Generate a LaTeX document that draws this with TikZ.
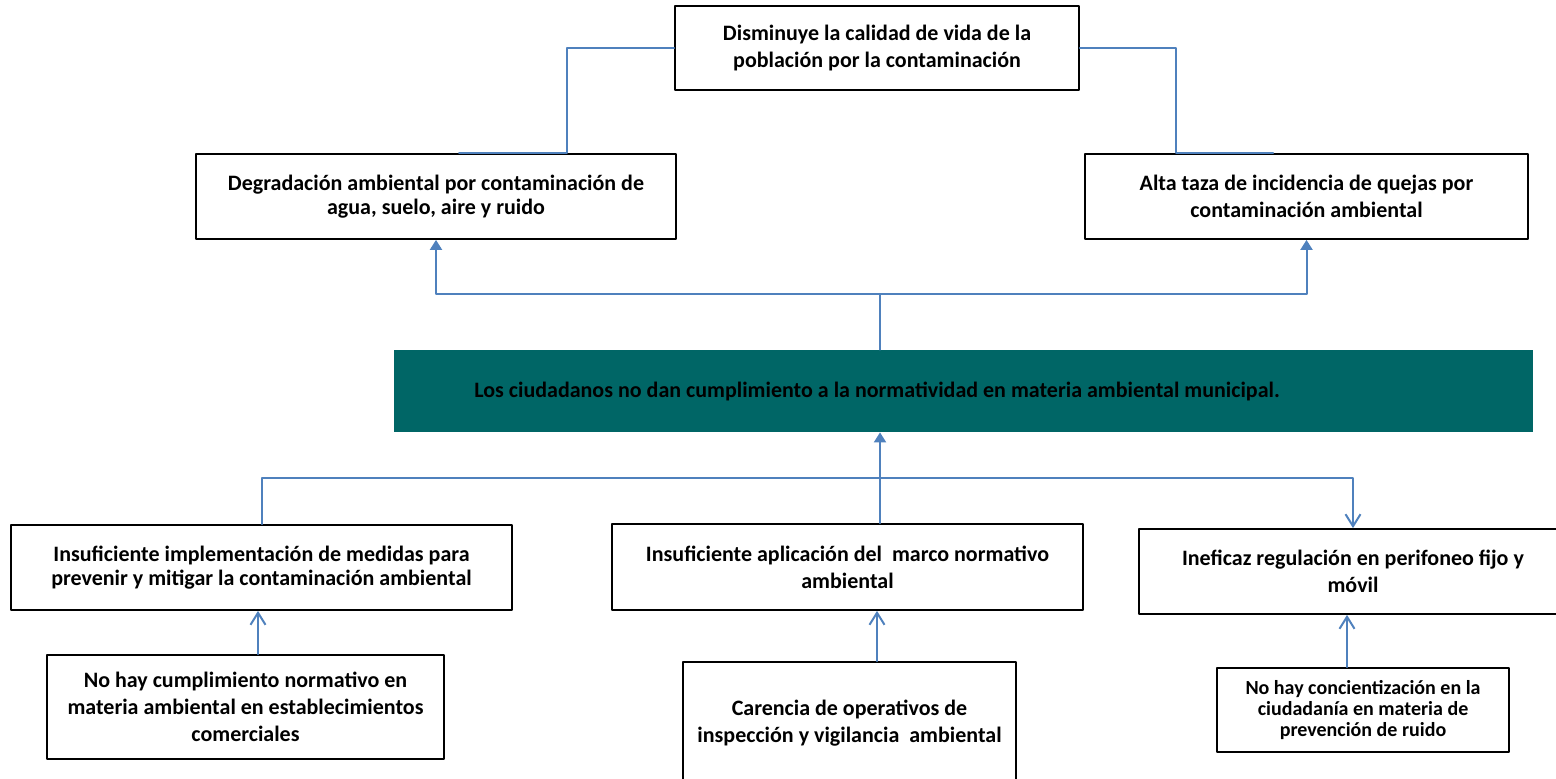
\documentclass[tikz,border=0pt]{standalone}
\usepackage{fontspec}
\setmainfont{Carlito}
\usetikzlibrary{arrows.meta, calc}

\definecolor{linkblue}{RGB}{79,129,189}
\definecolor{probgreen}{RGB}{0,102,102}

\begin{document}
\begin{tikzpicture}[x=0.5pt, y=-0.5pt, line cap=round, line join=round,
  box/.style={draw=black, line width=0.9pt, fill=white, inner sep=0pt, align=center,
    font=\bfseries\fontsize{11}{13.5}\selectfont},
  tightbox/.style={box, font=\bfseries\fontsize{11}{11.7}\selectfont},
  smallbox/.style={box, font=\bfseries\fontsize{10}{10.5}\selectfont},
  link/.style={draw=linkblue, line width=1pt},
  fillarrow/.style={link, -{Triangle[length=5pt, width=6pt]}},
  openarrow/.style={link, -{Straight Barb[length=6pt, width=7.5pt]}}]

  % ===== Frame (pixel units, y downwards) =====
  \useasboundingbox (0,0) rectangle (1556,779);

  % ===== Effects =====
  \node[box, minimum width=202pt, minimum height=42pt] (top) at (877,48)
    {Disminuye la calidad de vida de la\\población por la contaminación};
  \node[tightbox, minimum width=240pt, minimum height=42.5pt] (deg) at (436,196.5)
    {Degradación ambiental por contaminación de\\agua, suelo, aire y ruido};
  \node[box, minimum width=221.5pt, minimum height=42.5pt] (alta) at (1306.5,196.5)
    {Alta taza de incidencia de quejas por\\contaminación ambiental};

  % ===== Central problem =====
  \node[fill=probgreen, inner sep=0pt, minimum width=569.5pt, minimum height=41pt] (probbox) at (963.5,391) {};
  \node[font=\bfseries\fontsize{11}{13.5}\selectfont] (prob) at (877,391)
    {Los ciudadanos no dan cumplimiento a la normatividad en materia ambiental municipal.};

  % ===== Causes =====
  \node[tightbox, minimum width=250.5pt, minimum height=42.5pt] (imp) at (261.5,567.5)
    {Insuficiente implementación de medidas para\\prevenir y mitigar la contaminación ambiental};
  \node[box, minimum width=235.5pt, minimum height=43pt] (apl) at (847.5,567)
    {Insuficiente aplicación del\ \ marco normativo\\ambiental};
  \node[box, minimum width=214pt, minimum height=42.5pt] (inef) at (1353,571.5)
    {Ineficaz regulación en perifoneo fijo y\\móvil};

  % ===== Sub-causes =====
  \node[box, minimum width=198.5pt, minimum height=52pt] (cump) at (245.5,707)
    {No hay cumplimiento normativo en\\materia ambiental en establecimientos\\comerciales};
  \node[box, minimum width=166.5pt, minimum height=61.5pt] (car) at (849.5,723.5)
    {Carencia de operativos de\\inspección y vigilancia\ \ ambiental};
  \node[smallbox, minimum width=146pt, minimum height=42pt] (conc) at (1363,710)
    {No hay concientización en la\\ciudadanía en materia de\\prevención de ruido};

  % ===== Top links =====
  \draw[link] (top.west) -| ($(deg.north)+(131,0)$) -- ($(deg.north)+(23,0)$);
  \draw[link] (top.east) -| ($(alta.north)+(-130.5,0)$) -- ($(alta.north)+(-33.5,0)$);

  % ===== Problem to effects =====
  \coordinate (tj) at (880,294);
  \draw[link] (probbox.north -| tj) -- (tj);
  \draw[fillarrow] (tj) -| (deg.south);
  \draw[fillarrow] (tj) -| (alta.south);

  % ===== Causes to problem =====
  \coordinate (bj) at (880,478);
  \draw[fillarrow] (bj) -- (probbox.south -| bj);
  \draw[link] (bj) -| (imp.north);
  \draw[link] (bj) -- (apl.north -| bj);
  \draw[openarrow] (bj) -| (inef.north);

  % ===== Sub-causes to causes =====
  \draw[openarrow] ($(cump.north)+(12.5,0)$) coordinate (a1) -- (a1 |- imp.south);
  \draw[openarrow] ($(car.north)+(27.5,0)$) coordinate (a2) -- (a2 |- apl.south);
  \draw[openarrow] ($(conc.north)+(-16,0)$) coordinate (a3) -- (a3 |- inef.south);

\end{tikzpicture}
\end{document}
